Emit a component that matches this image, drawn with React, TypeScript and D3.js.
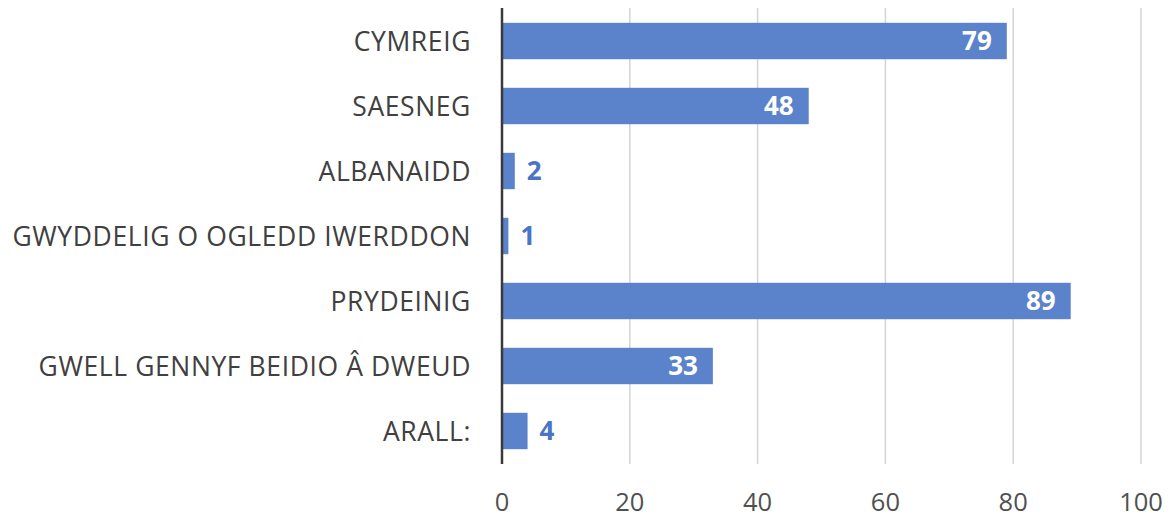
import React from "react";
import * as d3 from "d3";

const categories = [
  "CYMREIG ",
  "SAESNEG",
  "ALBANAIDD",
  "GWYDDELIG O OGLEDD IWERDDON",
  "PRYDEINIG",
  "GWELL GENNYF BEIDIO Â DWEUD",
  "ARALL:",
];
const values = [79, 48, 2, 1, 89, 33, 4];
const ticks = [0, 20, 40, 60, 80, 100];

export default function App() {
  const W = 1173, H = 520;
  const x = d3.scaleLinear().domain([0, 100]).range([502, 1141]);
  const y = d3.scaleBand<string>().domain(categories).range([8.5, 463.5]).paddingInner(0.44).paddingOuter(0.22);
  const font = "'Open Sans', 'Liberation Sans', sans-serif";
  const data = categories.map((c, i) => ({ c, v: values[i] }));
  return (
    <svg width={W} height={H} style={{ position: "absolute", left: 0, top: 0 }} fontFamily={font}>
      <rect width={W} height={H} fill="#fff" />
      {ticks.slice(1).map((t) => (
        <line key={t} x1={x(t)} x2={x(t)} y1={8} y2={464} stroke="#d4d4d4" strokeWidth={1.5} />
      ))}
      {data.map((d) => {
        const yy = y(d.c)!;
        const bh = y.bandwidth();
        const inside = d.v > 10;
        return (
          <g key={d.c}>
            <rect x={x(0)} y={yy} width={x(d.v) - x(0)} height={bh} fill="#5b83cb" />
            <text
              x={inside ? x(d.v) - 15 : x(d.v) + 12}
              y={yy + bh / 2}
              dy="0.36em"
              textAnchor={inside ? "end" : "start"}
              fill={inside ? "#ffffff" : "#4a74c6"}
              fontWeight="bold"
              fontSize={26}
            >
              {d.v}
            </text>
            <text x={471} y={yy + bh / 2} dy="0.36em" textAnchor="end" fill="#404040" fontSize={26.5} letterSpacing={0.6}>
              {d.c}
            </text>
          </g>
        );
      })}
      <line x1={x(0)} x2={x(0)} y1={8} y2={464} stroke="#3a3a3a" strokeWidth={2.5} />
      {ticks.map((t) => (
        <text key={t} x={x(t)} y={502} dy="0.36em" textAnchor="middle" fill="#505050" fontSize={25.5}>
          {t}
        </text>
      ))}
    </svg>
  );
}
